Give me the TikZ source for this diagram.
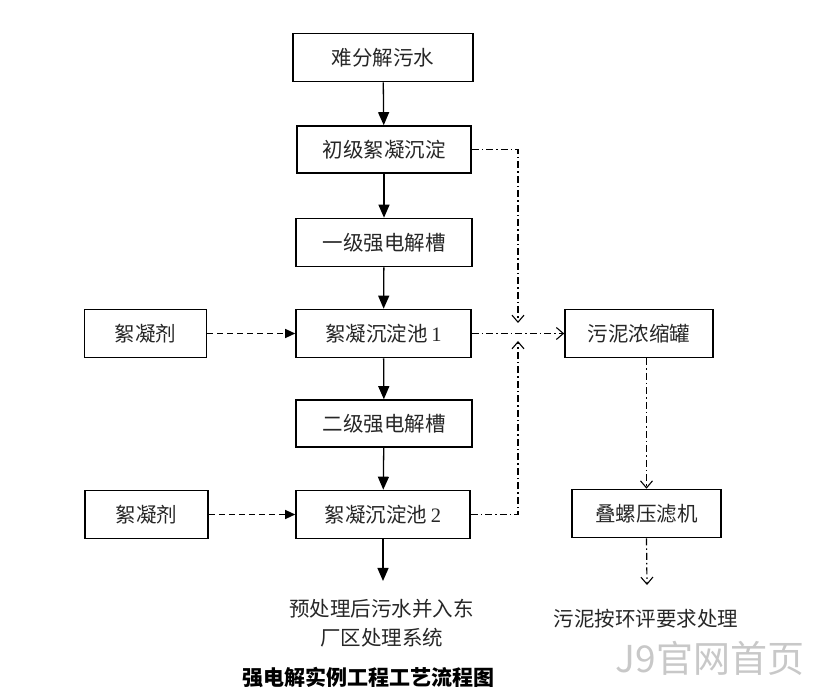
\documentclass[tikz,border=0pt]{standalone}
\usepackage{fontspec}
\setmainfont{Liberation Serif}
\newfontfamily\cjk{Noto Sans CJK SC}
\usetikzlibrary{arrows.meta}
\definecolor{wm}{RGB}{200,200,200}
\begin{document}
\begin{tikzpicture}[x=1pt,y=-1pt,
  box/.style={draw=black,line width=1.6pt,minimum height=48pt,inner sep=0pt,font=\fontsize{20.5}{24}\selectfont\cjk,text=black!85},
  solidarrow/.style={line width=1.3pt,-{Triangle[length=13pt,width=11pt]}},
  dasharrow/.style={line width=1.3pt,dash pattern=on 6pt off 4pt,-{Triangle[length=10pt,width=9pt]}},
  dotline/.style={line width=1.2pt,dash pattern=on 7pt off 3pt on 1.5pt off 3pt},
  dotarrow/.style={dotline,-{Straight Barb[length=7pt,width=12pt,line width=1.1pt]}},
  plain/.style={font=\fontsize{20.5}{29}\selectfont\cjk,align=center,text=black!85}]
\useasboundingbox (0,0) rectangle (820,692);
% main column
\node[box,minimum width=180pt] (n1) at (383,57.5) {难分解污水};
\node[box,minimum width=174pt,minimum height=47pt] (n2) at (384,149.5) {初级絮凝沉淀};
\node[box,minimum width=176pt] (n3) at (384,242.5) {一级强电解槽};
\node[box,minimum width=175pt] (n4) at (383.5,333.5) {絮凝沉淀池\,{\rmfamily 1}};
\node[box,minimum width=176pt,minimum height=47pt] (n5) at (384,423.5) {二级强电解槽};
\node[box,minimum width=174pt] (n6) at (383,514.5) {絮凝沉淀池\,{\rmfamily 2}};
% flocculant
\node[box,minimum width=122pt] (f1) at (145.5,333.5) {絮凝剂};
\node[box,minimum width=123pt] (f2) at (146.5,514.5) {絮凝剂};
% sludge
\node[box,minimum width=148pt] (s1) at (639,333.5) {污泥浓缩罐};
\node[box,minimum width=149pt] (s2) at (646.5,513.5) {叠螺压滤机};
% outputs
\node[plain] (o1) at (381.5,623) {预处理后污水并入东\\厂区处理系统};
\node[plain] (o2) at (646,619) {污泥按环评要求处理};
\node[font=\fontsize{21}{24}\selectfont\cjk\bfseries] (cap) at (368.5,677) {强电解实例工程工艺流程图};
\node[font=\fontsize{37}{40}\selectfont\cjk,text=wm] (wmk) at (710,658) {J9官网首页};
% coordinates
\coordinate (m) at (518,332);
\coordinate (mt) at (518,323);
\coordinate (mb) at (518,341);
\coordinate (e1) at (383,581);
\coordinate (e2) at (647,585);
% solid arrows
\draw[solidarrow] (n1) -- (n2);
\draw[solidarrow] (n2) -- (n3);
\draw[solidarrow] (n3) -- (n4);
\draw[solidarrow] (n4) -- (n5);
\draw[solidarrow] (n5) -- (n6);
\draw[solidarrow] (n6.south) -- (e1);
% dashed arrows
\draw[dasharrow] (f1) -- (n4);
\draw[dasharrow] (f2) -- (n6);
% dash-dot
\draw[dotarrow] (n2.east) -- (n2.east -| m) -- (mt);
\draw[dotarrow] (n6.east) -- (n6.east -| m) -- (mb);
\draw[dotarrow] (n4.east) -- (s1.west);
\draw[dotarrow] (s2.north |- s1.south) -- (s2.north);
\draw[dotarrow] (s2.south) -- (e2);
\end{tikzpicture}
\end{document}
